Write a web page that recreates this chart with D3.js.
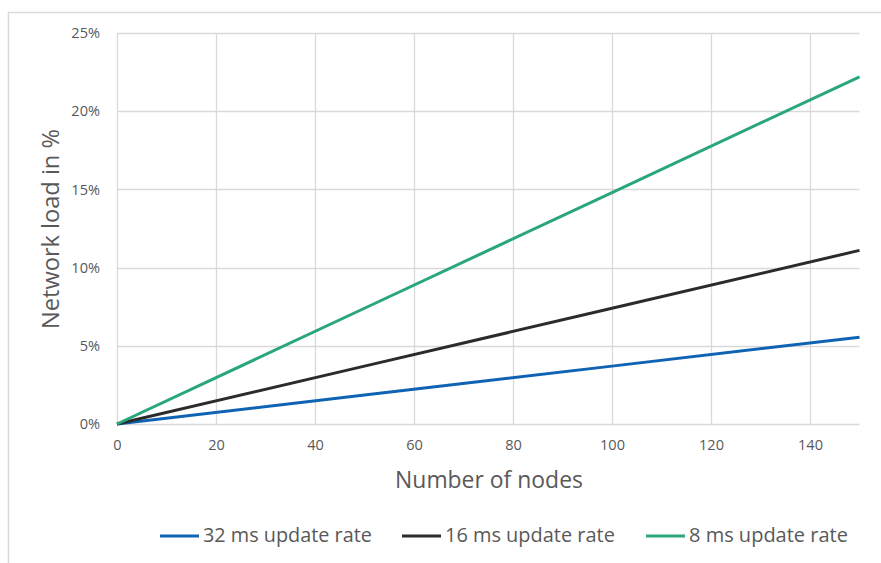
<!DOCTYPE html>
<html><head><meta charset="utf-8">
<script src="https://cdn.jsdelivr.net/npm/d3@7"></script>
<style>body{margin:0;background:#fff}svg{display:block}text{font-family:"Open Sans","Noto Sans",sans-serif;fill:#595959}</style>
</head><body><svg id="c" width="881" height="563"></svg>
<script>
const nodes = [0, 50, 100, 150];
const series32 = [0, 1.85, 3.7, 5.55];
const series16 = [0, 3.7, 7.4, 11.1];
const series8 = [0, 7.4, 14.8, 22.2];
const seriesNames = ["32 ms update rate", "16 ms update rate", "8 ms update rate"];
const xTicks = [0, 20, 40, 60, 80, 100, 120, 140];
const yTicks = [0, 5, 10, 15, 20, 25];
const colors = ["#0f63b4", "#2b2b2b", "#2aa67b"];

const svg = d3.select("#c");
const L = 117, R = 859.5, T = 33, B = 424;
const x = d3.scaleLinear().domain([0, 150]).range([L, R]);
const y = d3.scaleLinear().domain([0, 25]).range([B, T]);

function fit(sel, base, target) {
  const w = sel.node().getComputedTextLength();
  return base * target / w;
}

// outer border (cropped at right/bottom)
svg.append("path").attr("d", "M8.5,563 V12.5 H881").attr("fill", "none").attr("stroke", "#d9d9d9").attr("stroke-width", 1.5);

// grid
svg.append("g").selectAll("line").data(yTicks).join("line")
  .attr("x1", L).attr("x2", R).attr("y1", d => Math.round(y(d)) + 0.5).attr("y2", d => Math.round(y(d)) + 0.5)
  .attr("stroke", "#d9d9d9").attr("stroke-width", 1.3);
svg.append("g").selectAll("line").data(xTicks).join("line")
  .attr("y1", T).attr("y2", B).attr("x1", d => Math.round(x(d)) + 0.5).attr("x2", d => Math.round(x(d)) + 0.5)
  .attr("stroke", "#d9d9d9").attr("stroke-width", 1.3);

// tick font size fitted so "140" ≈ 25px wide
const probe = svg.append("text").style("font-size", "13px").text("140");
const tickFs = fit(probe, 13, 25);
probe.remove();

const xa = svg.append("g").attr("transform", `translate(0,${B})`)
  .call(d3.axisBottom(x).tickValues(xTicks).tickSize(0).tickPadding(16));
xa.select(".domain").remove();
xa.selectAll("text").style("font-size", tickFs + "px").attr("fill", "#595959");
const ya = svg.append("g").attr("transform", `translate(${L},0)`)
  .call(d3.axisLeft(y).tickValues(yTicks).tickSize(0).tickPadding(17).tickFormat(d => d + "%"));
ya.select(".domain").remove();
ya.selectAll("text").style("font-size", tickFs + "px").attr("fill", "#595959");

// lines
const all = [series32, series16, series8];
const line = d3.line().x((d, i) => x(nodes[i])).y(d => y(d));
svg.append("g").selectAll("path").data(all).join("path")
  .attr("d", d => line(d)).attr("fill", "none")
  .attr("stroke", (d, i) => colors[i]).attr("stroke-width", 3).attr("stroke-linecap", "butt");

// titles
const xt = svg.append("text").attr("x", 489).attr("y", 488).attr("text-anchor", "middle")
  .style("font-size", "19px").text("Number of nodes");
xt.style("font-size", fit(xt, 19, 188) + "px");
const yt = svg.append("text").attr("transform", "translate(59,229) rotate(-90)").attr("text-anchor", "middle")
  .style("font-size", "19px").text("Network load in %");
yt.style("font-size", fit(yt, 19, 200) + "px");

// legend
const legX = [160, 402, 646];
const legTextW = [169, 170, 159];
const lg = svg.append("g");
seriesNames.forEach((n, i) => {
  lg.append("line").attr("x1", legX[i]).attr("x2", legX[i] + 39).attr("y1", 536).attr("y2", 536)
    .attr("stroke", colors[i]).attr("stroke-width", 3);
  const t = lg.append("text").attr("x", legX[i] + 43).attr("y", 542).style("font-size", "17px").text(n);
  t.style("font-size", fit(t, 17, legTextW[i]) + "px");
});
</script></body></html>
